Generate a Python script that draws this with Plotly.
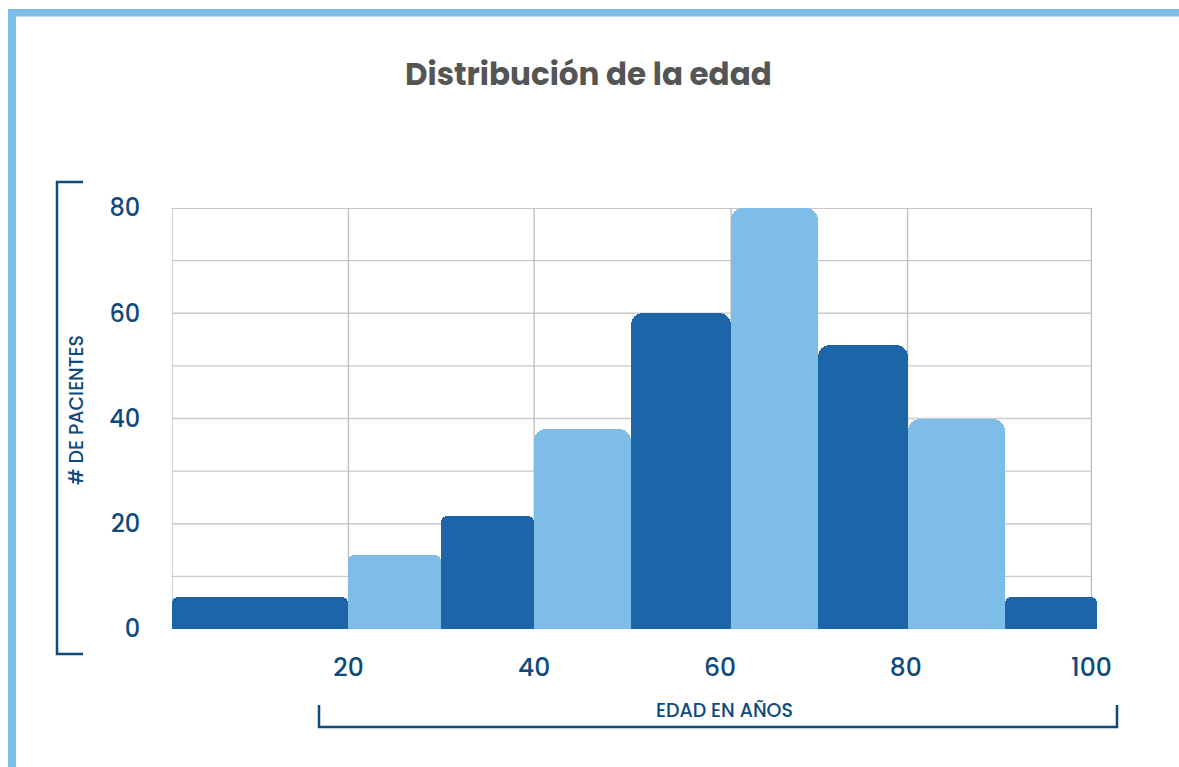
import plotly.graph_objects as go

# Age bins (years) and patient counts
bin_edges = [1, 20, 30, 40, 50.4, 61.2, 70.6, 80.2, 90.7, 100.6]
patients = [6, 14, 21.5, 38, 60, 80, 54, 40, 6]

x_ticks = [20, 40, 60, 80, 100]
x_tick_labels = ["20", "40", "60", "80", "100"]
y_ticks = [0, 20, 40, 60, 80]
y_tick_labels = ["0", "20", "40", "60", "80"]
grid_x = [1, 20, 40, 61.2, 80.2, 100]
grid_y = list(range(0, 81, 10))

DARK = "#1B65A8"
LIGHT = "#7DBDE8"
NAVY = "#0E4A7B"
GRID_H = "#CACACA"
GRID_V = "#BDBDBD"
FONT = "Poppins, 'Open Sans', sans-serif"

W, H = 1179, 767
PL, PR, PT, PB = 172, 1097, 208, 629   # plot area in pixels


def px(x):
    return (x - PL) / (PR - PL)


def py(y):
    return (PB - y) / (PB - PT)


fig = go.Figure()

for i, v in enumerate(patients):
    left, right = bin_edges[i], bin_edges[i + 1]
    fig.add_trace(go.Bar(
        x=[(left + right) / 2],
        y=[v],
        width=[right - left],
        marker=dict(color=DARK if i % 2 == 0 else LIGHT,
                    line=dict(width=0),
                    cornerradius=12 if v >= 30 else 6),
        showlegend=False,
        hoverinfo="x+y",
    ))

shapes = []
# horizontal grid lines
for gy in grid_y:
    shapes.append(dict(type="line", xref="x", yref="y", x0=grid_x[0], x1=grid_x[-1],
                       y0=gy, y1=gy,
                       line=dict(color="#B5B5B5" if gy == 80 else GRID_H, width=1.3),
                       layer="below"))
# vertical grid lines
for gx in grid_x:
    shapes.append(dict(type="line", xref="x", yref="y", x0=gx, x1=gx, y0=0, y1=80,
                       line=dict(color=GRID_V, width=1.3), layer="below"))

# light-blue frame on top and left
shapes.append(dict(type="rect", xref="paper", yref="paper",
                   x0=px(8), x1=px(W + 5), y0=py(9), y1=py(16.5),
                   fillcolor=LIGHT, line=dict(width=0)))
shapes.append(dict(type="rect", xref="paper", yref="paper",
                   x0=px(8), x1=px(16), y0=py(9), y1=py(H + 5),
                   fillcolor=LIGHT, line=dict(width=0)))

# bracket along the y axis title
shapes.append(dict(type="path", xref="paper", yref="paper",
                   path=f"M {px(83)} {py(182)} L {px(57)} {py(182)} L {px(57)} {py(654)} L {px(83)} {py(654)}",
                   line=dict(color=NAVY, width=2.5)))
# bracket under the x axis title
shapes.append(dict(type="path", xref="paper", yref="paper",
                   path=f"M {px(319)} {py(705)} L {px(319)} {py(727)} L {px(1117)} {py(727)} L {px(1117)} {py(705)}",
                   line=dict(color=NAVY, width=2.5)))

annotations = [
    dict(text="Distribución de la edad", xref="paper", yref="paper",
         x=px(588), y=py(74), xanchor="center", yanchor="middle", showarrow=False,
         font=dict(family=FONT, size=31, color="#555555", weight=700)),
    dict(text="# DE PACIENTES", xref="paper", yref="paper",
         x=px(76), y=py(410), xanchor="center", yanchor="middle", showarrow=False,
         textangle=-90, font=dict(family=FONT, size=19, color=NAVY, weight=500)),
    dict(text="EDAD EN AÑOS", xref="paper", yref="paper",
         x=px(724), y=py(710), xanchor="center", yanchor="middle", showarrow=False,
         font=dict(family=FONT, size=19, color=NAVY, weight=500)),
]

fig.update_layout(
    width=W, height=H,
    margin=dict(l=PL, r=W - PR, t=PT, b=H - PB, pad=0),
    paper_bgcolor="white",
    plot_bgcolor="white",
    bargap=0,
    barmode="overlay",
    shapes=shapes,
    annotations=annotations,
    xaxis=dict(range=[bin_edges[0], bin_edges[-1]], showgrid=False, zeroline=False,
               showline=False, tickvals=x_ticks, ticktext=x_tick_labels,
               ticks="outside", ticklen=16, tickcolor="rgba(0,0,0,0)",
               tickfont=dict(family=FONT, size=25, color=NAVY, weight=500)),
    yaxis=dict(range=[0, 80], showgrid=False, tickvals=y_ticks, ticktext=y_tick_labels,
               zeroline=False, showline=False,
               ticks="outside", ticklen=26, tickcolor="rgba(0,0,0,0)",
               tickfont=dict(family=FONT, size=24, color=NAVY, weight=500)),
)

fig.write_html("out.html")
